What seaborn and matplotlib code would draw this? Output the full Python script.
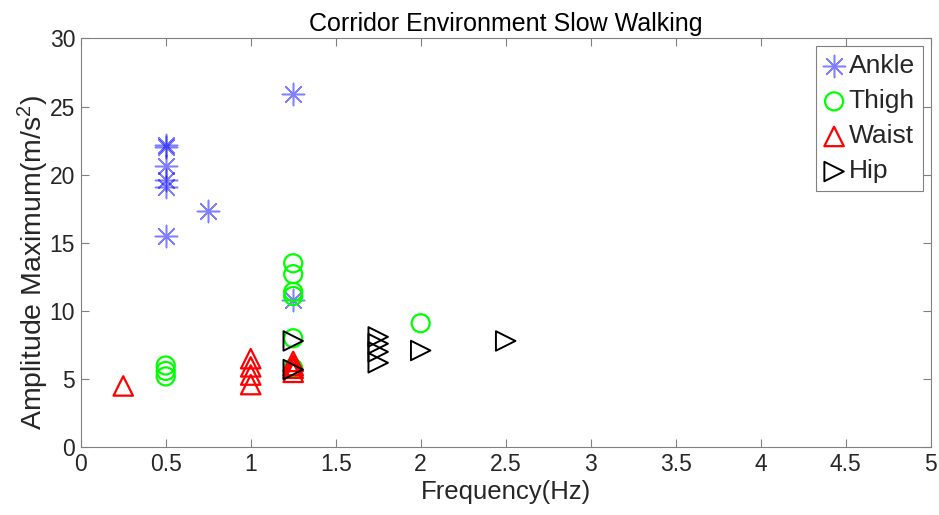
import matplotlib
matplotlib.use("Agg")
import matplotlib.pyplot as plt
import seaborn as sns
import pandas as pd

# values
ankle_x = [0.5, 0.5, 0.5, 0.5, 0.5, 0.5, 0.75, 1.25, 1.25]
ankle_y = [22.2, 22.0, 20.6, 19.6, 19.1, 15.5, 17.3, 25.9, 10.8]

thigh_x = [0.5, 0.5, 0.5, 1.25, 1.25, 1.25, 1.25, 1.25, 1.25, 2.0]
thigh_y = [6.0, 5.6, 5.2, 13.5, 12.7, 11.4, 11.1, 8.0, 5.8, 9.1]

waist_x = [0.25, 1.0, 1.0, 1.0, 1.0, 1.25, 1.25, 1.25, 1.25]
waist_y = [4.5, 6.5, 5.9, 5.3, 4.6, 6.3, 6.0, 5.8, 5.5]

hip_x = [1.25, 1.25, 1.75, 1.75, 1.75, 1.75, 2.0, 2.5]
hip_y = [7.8, 5.7, 8.1, 7.6, 7.0, 6.2, 7.1, 7.8]

x_ticks = [0, 0.5, 1, 1.5, 2, 2.5, 3, 3.5, 4, 4.5, 5]
y_ticks = [0, 5, 10, 15, 20, 25, 30]

sns.set_theme(style="white")
plt.rcParams['font.family'] = ['Liberation Sans', 'DejaVu Sans']
plt.rcParams['mathtext.fontset'] = 'custom'
plt.rcParams['mathtext.rm'] = 'Liberation Sans'
plt.rcParams['mathtext.it'] = 'Liberation Sans'

dpi = 100
fig = plt.figure(figsize=(939 / dpi, 515 / dpi), dpi=dpi)
ax = fig.add_axes([0.086, 0.1315, 0.905, 0.794])

series = [
    ("Ankle", ankle_x, ankle_y, dict(marker=(8, 2, 0), s=16 ** 2, color="#0000ff", alpha=0.5, linewidth=1.1)),
    ("Thigh", thigh_x, thigh_y, dict(marker="o", s=13 ** 2, facecolor="none", edgecolor="#00ff00", linewidth=1.6)),
    ("Waist", waist_x, waist_y, dict(marker="^", s=14 ** 2, facecolor="none", edgecolor="#ff0000", linewidth=1.6)),
    ("Hip", hip_x, hip_y, dict(marker=">", s=14 ** 2, facecolor="none", edgecolor="black", linewidth=1.4)),
]

for name, xs, ys, style in series:
    df = pd.DataFrame({"freq": xs, "amp": ys})
    sns.scatterplot(data=df, x="freq", y="amp", ax=ax, label=name, **style)

ax.set_xlim(0, 5)
ax.set_ylim(0, 30)
ax.set_xticks(x_ticks)
ax.set_xticklabels([f"{t:g}" for t in x_ticks])
ax.set_yticks(y_ticks)
ax.tick_params(direction="in", length=6, width=0.8, color="#808080",
               labelsize=16.5, labelcolor="#262626", top=True, right=True,
               bottom=True, left=True, pad=4)
for sp in ax.spines.values():
    sp.set_color("#808080")
    sp.set_linewidth(0.8)

ax.set_xlabel("Frequency(Hz)", fontsize=18.5, color="#262626", labelpad=3)
ax.set_ylabel("Amplitude Maximum(m/s$^2$)", fontsize=20.5, color="#262626", labelpad=4)
ax.yaxis.set_label_coords(-0.035, 0.453)
ax.set_title("Corridor Environment Slow Walking", fontsize=18, color="black", pad=5)

leg = ax.legend(loc="upper right", fontsize=19, frameon=True, fancybox=False,
                framealpha=1, edgecolor="#808080", handlelength=0.8,
                handletextpad=0.15, borderpad=0.3, labelspacing=0.42,
                borderaxespad=0.3)
leg.get_frame().set_linewidth(0.8)

plt.savefig("out.png", dpi=dpi)
